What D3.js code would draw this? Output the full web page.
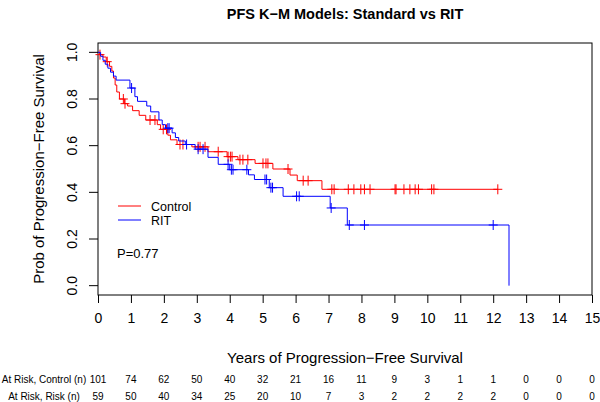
<!DOCTYPE html>
<html>
<head>
<meta charset="utf-8">
<script src="https://cdn.jsdelivr.net/npm/d3@7"></script>
<style>
  body { margin: 0; background: #fff; }
  svg { font-family: "Liberation Sans", Arial, sans-serif; }
</style>
</head>
<body>
<div class="chart"></div>
<script>
// Kaplan-Meier step data (time in years, survival after the drop)
var ctlTime = [0.05, 0.15, 0.25, 0.35, 0.42, 0.47, 0.52, 0.57, 0.65, 0.80, 0.90, 1.05, 1.25, 1.45, 1.80, 1.90, 2.12, 2.20, 2.40, 2.85, 3.34, 3.92, 4.25, 4.77, 5.31, 5.83, 6.05, 6.80];
var ctlSurv = [0.99, 0.98, 0.96, 0.94, 0.92, 0.89, 0.86, 0.83, 0.80, 0.78, 0.77, 0.75, 0.73, 0.71, 0.69, 0.67, 0.645, 0.625, 0.605, 0.595, 0.574, 0.553, 0.54, 0.524, 0.50, 0.474, 0.45, 0.413];
var ctlCensor = [0.06, 0.28, 0.77, 0.82, 1.58, 1.73, 1.98, 2.08, 2.49, 2.58, 3.04, 3.1, 3.25, 3.65, 3.95, 4.02, 4.07, 4.31, 4.4, 4.55, 5.01, 5.1, 5.16, 5.77, 6.23, 6.38, 7.1, 7.17, 7.6, 7.77, 7.98, 8.09, 8.26, 9.02, 9.05, 9.29, 9.47, 9.63, 9.73, 10.13, 10.2, 12.14];

var ritTime = [0.08, 0.15, 0.22, 0.30, 0.38, 0.47, 0.55, 0.97, 1.12, 1.20, 1.48, 1.60, 1.85, 1.95, 2.05, 2.25, 2.35, 2.45, 2.65, 2.95, 3.34, 3.65, 4.00, 4.57, 4.75, 5.20, 5.62, 7.05, 7.57, 12.48];
var ritSurv = [0.983, 0.966, 0.949, 0.932, 0.915, 0.898, 0.881, 0.847, 0.81, 0.79, 0.77, 0.745, 0.71, 0.69, 0.675, 0.655, 0.635, 0.62, 0.605, 0.585, 0.55, 0.52, 0.497, 0.475, 0.455, 0.42, 0.383, 0.333, 0.26, 0];
var ritCensor = [1.02, 2.12, 2.16, 2.69, 3.04, 3.19, 3.95, 4.05, 4.1, 4.52, 5.07, 5.12, 5.25, 5.3, 6.03, 6.11, 7.08, 7.63, 8.09, 12.0];

// at-risk table
var riskYears = [0, 1, 2, 3, 4, 5, 6, 7, 8, 9, 10, 11, 12, 13, 14, 15];
var ctlAtRisk = [101, 74, 62, 50, 40, 32, 21, 16, 11, 9, 3, 1, 1, 0, 0, 0];
var ritAtRisk = [59, 50, 40, 34, 25, 20, 10, 7, 3, 2, 2, 2, 2, 0, 0, 0];

var yTicks = [0, 0.2, 0.4, 0.6, 0.8, 1.0];

var svgWidth = 600;
var svgHeight = 402;

// plot box
var box = { left: 98, right: 592, top: 43, bottom: 295 };

var svg = d3.select(".chart")
  .append("svg")
  .attr("width", svgWidth)
  .attr("height", svgHeight);

var x = d3.scaleLinear().domain([0, 15]).range([box.left, box.right]);
var y = d3.scaleLinear().domain([-0.04, 1.04]).range([box.bottom, box.top]);

// frame
svg.append("rect")
  .attr("x", box.left)
  .attr("y", box.top)
  .attr("width", box.right - box.left)
  .attr("height", box.bottom - box.top)
  .attr("fill", "none")
  .attr("stroke", "#000")
  .attr("stroke-width", 1);

// x axis
var xAxis = svg.append("g")
  .attr("transform", `translate(0, ${box.bottom})`)
  .call(d3.axisBottom(x).tickValues(riskYears).tickSize(8).tickPadding(10).tickFormat(d3.format("d")));
xAxis.select(".domain").remove();
xAxis.selectAll("text").attr("font-size", 14).attr("font-family", null).attr("fill", "#000");

// y axis
var yAxis = svg.append("g")
  .attr("transform", `translate(${box.left}, 0)`)
  .call(d3.axisLeft(y).tickValues(yTicks).tickSize(9).tickFormat(d3.format(".1f")));
yAxis.select(".domain").remove();
yAxis.selectAll("text")
  .attr("font-size", 14)
  .attr("font-family", null)
  .attr("fill", "#000")
  .attr("text-anchor", "middle")
  .attr("x", null)
  .attr("dy", null)
  .attr("transform", d => `translate(-25, ${y(d)}) rotate(-90)`)
  .attr("y", 0)
  .attr("dominant-baseline", "middle");
yAxis.selectAll(".tick").attr("transform", null);
yAxis.selectAll(".tick line").attr("y1", d => y(d)).attr("y2", d => y(d));

// step curves
function stepPoints(times, surv, endTime) {
  var pts = [[0, 1]];
  times.forEach(function(t, i) { pts.push([t, surv[i]]); });
  var last = pts[pts.length - 1];
  if (endTime > last[0]) pts.push([endTime, last[1]]);
  return pts;
}

function survAt(times, surv, t) {
  var i = d3.bisectRight(times, t);
  return i === 0 ? 1 : surv[i - 1];
}

var line = d3.line()
  .x(d => x(d[0]))
  .y(d => y(d[1]))
  .curve(d3.curveStepAfter);

var groups = [
  { times: ctlTime, surv: ctlSurv, censor: ctlCensor, color: "#FF0000", end: d3.max(ctlCensor) },
  { times: ritTime, surv: ritSurv, censor: ritCensor, color: "#0000FF", end: d3.max(ritTime) }
];

groups.forEach(function(g) {
  svg.append("path")
    .attr("d", line(stepPoints(g.times, g.surv, g.end)))
    .attr("fill", "none")
    .attr("stroke", g.color)
    .attr("stroke-width", 1);

  svg.append("g").selectAll("path")
    .data(g.censor)
    .enter()
    .append("path")
    .attr("d", function(t) {
      var cx = x(t), cy = y(survAt(g.times, g.surv, t));
      return `M${cx - 4.5},${cy}H${cx + 4.5}M${cx},${cy - 5}V${cy + 5}`;
    })
    .attr("stroke", g.color)
    .attr("stroke-width", 1)
    .attr("fill", "none");
});

// title and axis labels
svg.append("text")
  .attr("x", (box.left + box.right) / 2)
  .attr("y", 19)
  .attr("text-anchor", "middle")
  .attr("font-size", 14.5)
  .attr("font-weight", "bold")
  .text("PFS K\u2212M Models: Standard vs RIT");

svg.append("text")
  .attr("x", (box.left + box.right) / 2)
  .attr("y", 363)
  .attr("text-anchor", "middle")
  .attr("font-size", 15)
  .text("Years of Progression\u2212Free Survival");

svg.append("text")
  .attr("transform", `translate(44, ${(box.top + box.bottom) / 2}) rotate(-90)`)
  .attr("text-anchor", "middle")
  .attr("font-size", 15)
  .text("Prob of Progression\u2212Free Survival");

// legend
var legendItems = [
  { label: "Control", color: "#FF0000", yPos: 206 },
  { label: "RIT", color: "#0000FF", yPos: 220 }
];
legendItems.forEach(function(d) {
  svg.append("line")
    .attr("x1", 118).attr("x2", 141)
    .attr("y1", d.yPos).attr("y2", d.yPos)
    .attr("stroke", d.color)
    .attr("stroke-width", 1);
  svg.append("text")
    .attr("x", 151)
    .attr("y", d.yPos + 4.5)
    .attr("font-size", 12.5)
    .text(d.label);
});

svg.append("text")
  .attr("x", 117)
  .attr("y", 258)
  .attr("font-size", 13)
  .text("P=0.77");

// at-risk table
var riskRows = [
  { label: "At Risk, Control (n)", values: ctlAtRisk, yPos: 383 },
  { label: "At Risk, Risk (n)", values: ritAtRisk, yPos: 400 }
];
riskRows.forEach(function(row) {
  svg.append("text")
    .attr("x", 44)
    .attr("y", row.yPos)
    .attr("text-anchor", "middle")
    .attr("font-size", 10)
    .text(row.label);
  svg.append("g").selectAll("text")
    .data(riskYears)
    .enter()
    .append("text")
    .attr("x", d => x(d))
    .attr("y", row.yPos)
    .attr("text-anchor", "middle")
    .attr("font-size", 10)
    .text((d, i) => row.values[i]);
});
</script>
</body>
</html>
